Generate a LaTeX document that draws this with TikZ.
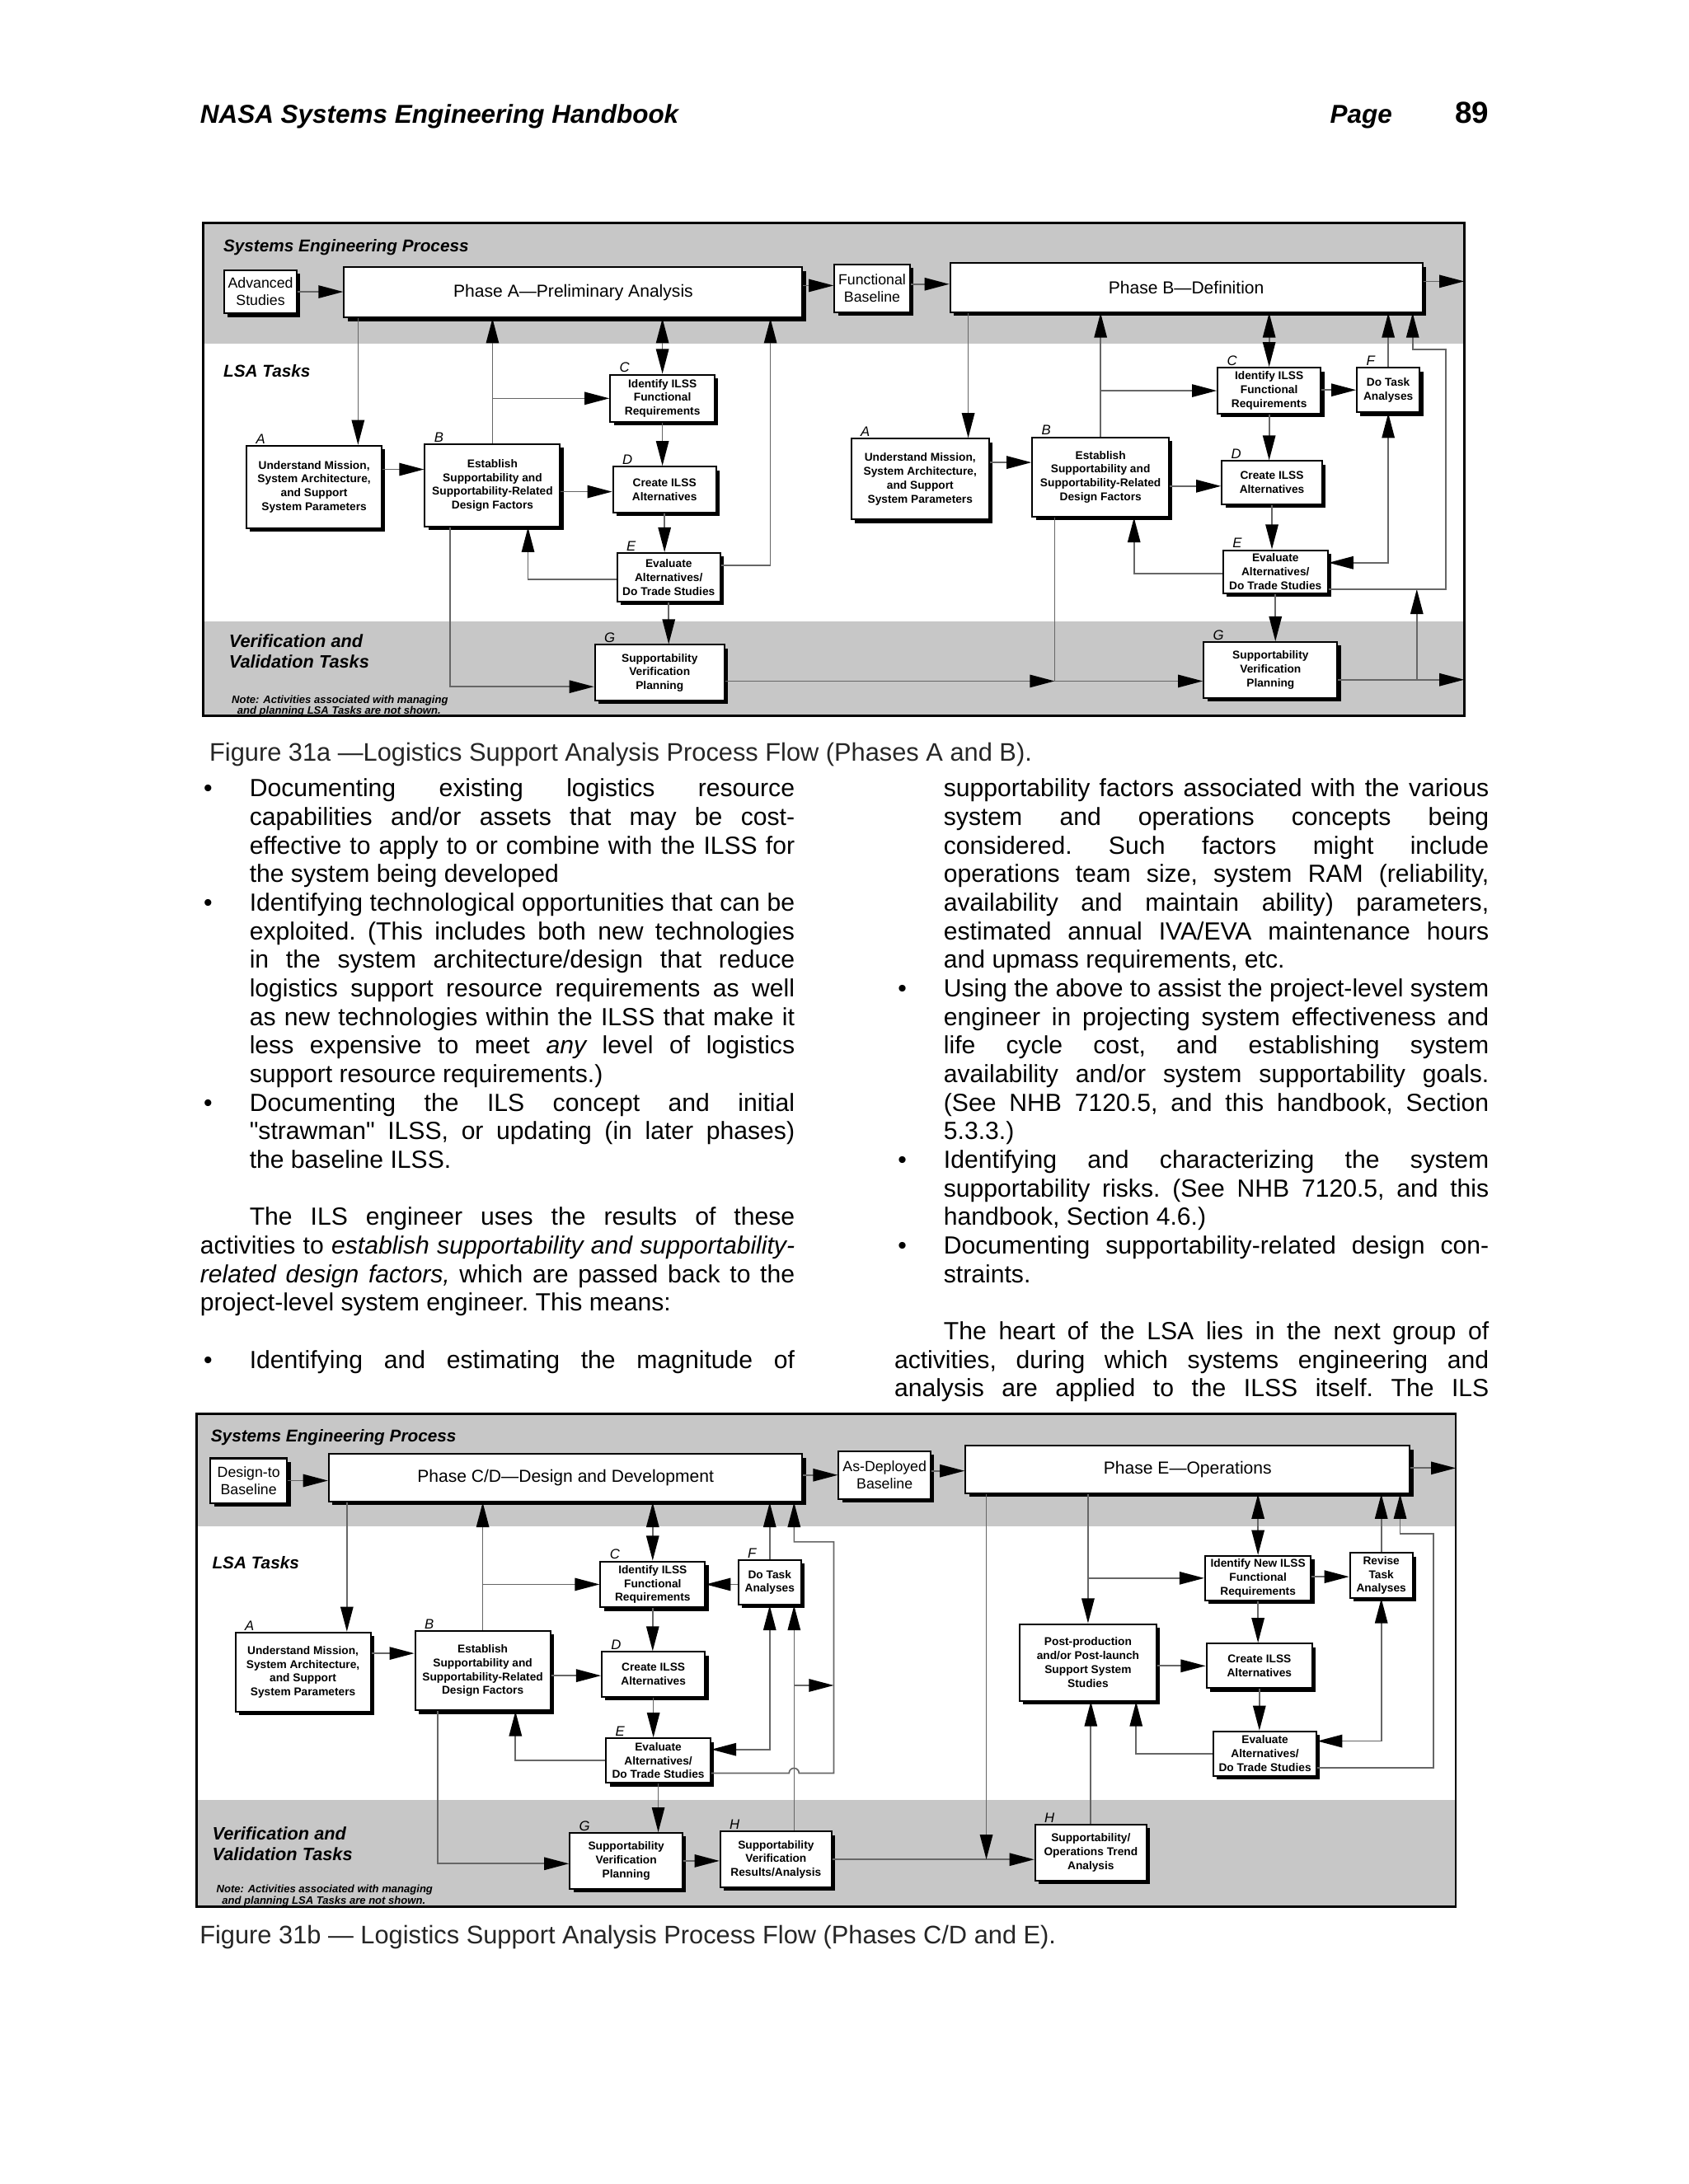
\documentclass[tikz,border=0pt]{standalone}
\usepackage{fontspec}
\setmainfont{Liberation Sans}
\usetikzlibrary{arrows.meta,shadows}
\newcommand\sunit{0.50495pt}
% lines of the two text columns
\newcommand\bfirst[1]{\hbox to\hsize{\hbox to17.9pt{\hskip1.3pt\textbullet\hss}\hbox to197.6pt{#1}}}
\newcommand\bmid[1]{\hbox to\hsize{\hskip17.9pt\hbox to197.6pt{#1}}}
\newcommand\blast[1]{\hbox to\hsize{\hskip17.9pt #1\hfil}}
\newcommand\pfirst[1]{\hbox to\hsize{\hskip17.9pt #1}}
\newcommand\pmid[1]{\hbox to\hsize{#1}}
\newcommand\plast[1]{\hbox to\hsize{#1\hfil}}
\newcommand\emptyrow{\hbox{}}

\begin{document}
\begin{tikzpicture}[x=\sunit,y=-\sunit,
  Head/.tip={Triangle[length=9pt,width=4.6pt,color=black]},
  conn/.style={draw=black!60,line width=.5pt,-Head},
  both/.style={conn,Head-Head},
  band/.style={fill=black!22},
  frm/.style={draw,line width=.8pt},
  tbox/.style={draw,fill=white,line width=.6pt,inner sep=0pt,align=center,
    font=\bfseries\fontsize{4.1}{5}\selectfont,
    drop shadow={shadow xshift=1.3pt,shadow yshift=-1.3pt,fill=black,opacity=1}},
  sbox/.style={tbox,font=\fontsize{5.3}{6.3}\selectfont},
  pbox/.style={tbox,font=\fontsize{6.3}{7}\selectfont},
  sz/.style 2 args={minimum width=#1*\sunit,minimum height=#2*\sunit},
  tag/.style={anchor=south west,xshift=3.2pt,inner sep=.3pt,font=\itshape\fontsize{5}{5}\selectfont},
  lane/.style={anchor=base west,inner sep=0pt,font=\bfseries\itshape\fontsize{6.2}{7}\selectfont},
  vlane/.style={anchor=north west,inner sep=0pt,align=left,font=\bfseries\itshape\fontsize{6.5}{7.6}\selectfont},
  fignote/.style={anchor=north west,inner sep=0pt,align=left,font=\bfseries\itshape\fontsize{3.9}{4}\selectfont},
  figcap/.style={anchor=base west,inner sep=0pt,text=black!85,font=\fontsize{9.2}{11}\selectfont}]
\useasboundingbox (0,0) rectangle (1212,1568);
\fill[white] (0,0) rectangle (1212,1568);

% page header
\node[anchor=base west,inner sep=0pt,font=\bfseries\itshape\fontsize{9.4}{11}\selectfont] (hdr) at (143.3,88.5) {NASA Systems Engineering Handbook};
\node[anchor=base west,inner sep=0pt,font=\bfseries\itshape\fontsize{9.4}{11}\selectfont] (pg) at (954.4,88.5) {Page};
\node[anchor=base east,inner sep=0pt,font=\bfseries\fontsize{11}{13}\selectfont] (pgnum) at (1069,88.5) {89};

% ---------- Figure 31a ----------
\fill[band] (146,160) rectangle (1051,247);
\fill[band] (146,446) rectangle (1051,514);
\draw[frm] (146,160) rectangle (1051,514);
\node[lane] (sepA) at (160,181) {Systems Engineering Process};
\node[lane] (lsaA) at (160,271) {LSA Tasks};
\node[vlane] (vvA) at (164,455) {Verification and\\Validation Tasks};
\node[fignote] (ntA) at (166,499) {Note: Activities associated with managing\\\hspace*{2pt}and planning LSA Tasks are not shown.};

\node[sbox,sz={52}{31}] (adv) at (187,209.5) {Advanced\\Studies};
\node[pbox,sz={329}{36}] (phaseA) at (411.5,210) {Phase A---Preliminary Analysis};
\node[sbox,sz={54}{34}] (fb) at (626,207) {Functional\\Baseline};
\node[pbox,sz={339}{35}] (phaseB) at (851.5,206.5) {Phase B---Definition};

\node[tbox,sz={97}{59},label={[tag]north west:A}] (a1) at (225.5,349.5) {Understand Mission,\\System Architecture,\\and Support\\System Parameters};
\node[tbox,sz={97}{59},label={[tag]north west:B}] (b1) at (353.5,348.5) {Establish\\Supportability and\\Supportability-Related\\Design Factors};
\node[tbox,sz={75}{34},label={[tag]north west:C}] (c1) at (475.5,286) {Identify ILSS\\Functional\\Requirements};
\node[tbox,sz={74}{33},label={[tag]north west:D}] (d1) at (477,351.5) {Create ILSS\\Alternatives};
\node[tbox,sz={74}{35},label={[tag]north west:E}] (e1) at (480,414.5) {Evaluate\\Alternatives/\\Do Trade Studies};
\node[tbox,sz={93}{40},label={[tag]north west:G}] (g1) at (473.5,483) {Supportability\\Verification\\Planning};

\node[tbox,sz={99}{58},label={[tag]north west:A}] (a2) at (660.5,344) {Understand Mission,\\System Architecture,\\and Support\\System Parameters};
\node[tbox,sz={98}{57},label={[tag]north west:B}] (b2) at (790,342.5) {Establish\\Supportability and\\Supportability-Related\\Design Factors};
\node[tbox,sz={74}{33},label={[tag]north west:C}] (c2) at (911,280.5) {Identify ILSS\\Functional\\Requirements};
\node[tbox,sz={45}{32},label={[tag]north west:F}] (f2) at (996.5,280) {Do Task\\Analyses};
\node[tbox,sz={72}{31},label={[tag]north west:D}] (d2) at (913,346.5) {Create ILSS\\Alternatives};
\node[tbox,sz={75}{31},label={[tag]north west:E}] (e2) at (915.5,410.5) {Evaluate\\Alternatives/\\Do Trade Studies};
\node[tbox,sz={96}{40},label={[tag]north west:G}] (g2) at (912,481) {Supportability\\Verification\\Planning};

\coordinate (rimA) at (1051,202);
\coordinate (rimB) at (1051,488);
\coordinate (jA) at (757,489);
\coordinate (jB) at (1017,488);

\draw[conn] (adv.east) -- (adv.east -| phaseA.west);
\draw[conn] (phaseA.east |- 0,205) -- (fb.west |- 0,205);
\draw[conn] (fb.east |- 0,204) -- (phaseB.west |- 0,204);
\draw[conn] (phaseB.east |- rimA) -- (rimA);
\draw[conn] (phaseA.south -| 257,0) -- (a1.north -| 257,0);
\draw[conn] (a1.east |- 0,337) -- (b1.west |- 0,337);
\draw[conn] (b1.north) -- (b1.north |- phaseA.south);
\draw[conn] (b1.north |- c1.west) -- (c1.west);
\draw[conn] (b1.east |- 0,353) -- (d1.west |- 0,353);
\draw[both] (c1.north) -- (c1.north |- phaseA.south);
\draw[conn] (c1.south) -- (c1.south |- d1.north);
\draw[conn] (d1.south) -- (d1.south |- e1.north);
\draw[conn] (e1.south) -- (e1.south |- g1.north);
\draw[conn] (e1.west |- 0,416) -| (b1.south -| 379,0);
\draw[conn] (e1.east |- 0,406) -| (phaseA.south -| 553,0);
\draw[conn] (b1.south -| 323,0) |- (g1.west |- 0,493);
\draw[conn] (g1.east |- jA) -- (jA);
\draw[conn] (b2.south -| jA) -- (jA) -- (g2.west |- jA);
\draw[conn] (g2.east |- rimB) -- (rimB);
\draw[conn] (jB) -- (jB |- 0,423);
\draw[conn] (phaseB.south -| 695,0) -- (a2.north -| 695,0);
\draw[conn] (a2.east |- 0,332) -- (b2.west |- 0,332);
\draw[conn] (b2.north) -- (b2.north |- phaseB.south);
\draw[conn] (b2.north |- c2.west) -- (c2.west);
\draw[conn] (b2.east |- 0,349) -- (d2.west |- 0,349);
\draw[both] (c2.north) -- (c2.north |- phaseB.south);
\draw[conn] (c2.east |- f2.west) -- (f2.west);
\draw[conn] (c2.south) -- (c2.south |- d2.north);
\draw[conn] (d2.south) -- (d2.south |- e2.north);
\draw[conn] (e2.south) -- (e2.south |- g2.north);
\draw[conn] (f2.north) -- (f2.north |- phaseB.south);
\draw[both] (e2.east |- 0,404) -| (f2.south);
\draw[conn] (e2.west |- 0,412) -| (b2.south -| 814,0);
\draw[conn] (e2.east |- 0,423) -| (1038,251) -| (phaseB.south -| 1014,0);

\node[figcap] (capA) at (150,546.5) {Figure 31a ---Logistics Support Analysis Process Flow (Phases A and B).};

% ---------- text columns ----------
\node[anchor=base west,inner sep=0pt] (colL) at (143.3,572) {\vtop{\hsize=215.5pt\fontsize{9}{10.36}\selectfont\frenchspacing\lineskiplimit=-\maxdimen
\bfirst{Documenting existing logistics resource}
\bmid{capabilities and/or assets that may be cost-}
\bmid{effective to apply to or combine with the ILSS for}
\blast{the system being developed}
\bfirst{Identifying technological opportunities that can be}
\bmid{exploited. (This includes both new technologies}
\bmid{in the system architecture/design that reduce}
\bmid{logistics support resource requirements as well}
\bmid{as new technologies within the ILSS that make it}
\bmid{less expensive to meet {\itshape any} level of logistics}
\blast{support resource requirements.)}
\bfirst{Documenting the ILS concept and initial}
\bmid{\textquotedbl strawman\textquotedbl\ ILSS, or updating (in later phases)}
\blast{the baseline ILSS.}
\emptyrow
\pfirst{The ILS engineer uses the results of these}
\pmid{activities to {\itshape establish supportability and supportability-}}
\pmid{{\itshape related design factors,} which are passed back to the}
\plast{project-level system engineer. This means:}
\emptyrow
\bfirst{Identifying and estimating the magnitude of}}};

\node[anchor=base west,inner sep=0pt] (colR) at (641.6,572) {\vtop{\hsize=215.5pt\fontsize{9}{10.36}\selectfont\frenchspacing\lineskiplimit=-\maxdimen
\bmid{supportability factors associated with the various}
\bmid{system and operations concepts being}
\bmid{considered. Such factors might include}
\bmid{operations team size, system RAM (reliability,}
\bmid{availability and maintain ability) parameters,}
\bmid{estimated annual IVA/EVA maintenance hours}
\blast{and upmass requirements, etc.}
\bfirst{Using the above to assist the project-level system}
\bmid{engineer in projecting system effectiveness and}
\bmid{life cycle cost, and establishing system}
\bmid{availability and/or system supportability goals.}
\bmid{(See NHB 7120.5, and this handbook, Section}
\blast{5.3.3.)}
\bfirst{Identifying and characterizing the system}
\bmid{supportability risks. (See NHB 7120.5, and this}
\blast{handbook, Section 4.6.)}
\bfirst{Documenting supportability-related design con-}
\blast{straints.}
\emptyrow
\pfirst{The heart of the LSA lies in the next group of}
\pmid{activities, during which systems engineering and}
\pmid{analysis are applied to the ILSS itself. The ILS}}};

% ---------- Figure 31b ----------
\fill[band] (141,1015) rectangle (1045,1096);
\fill[band] (141,1292) rectangle (1045,1369);
\draw[frm] (141,1015) rectangle (1045,1369);
\node[lane] (sepB) at (151,1035) {Systems Engineering Process};
\node[lane] (lsaB) at (152,1126) {LSA Tasks};
\node[vlane] (vvB) at (152,1311) {Verification and\\Validation Tasks};
\node[fignote] (ntB) at (155,1353) {Note: Activities associated with managing\\\hspace*{2pt}and planning LSA Tasks are not shown.};

\node[sbox,sz={55}{32}] (dtb) at (178.5,1063) {Design-to\\Baseline};
\node[pbox,sz={340}{34}] (phaseCD) at (406,1061) {Phase C/D---Design and Development};
\node[sbox,sz={66}{34}] (adb) at (635,1059) {As-Deployed\\Baseline};
\node[pbox,sz={319}{34}] (phaseE) at (852.5,1055) {Phase E---Operations};

\node[tbox,sz={97}{57},label={[tag]north west:A}] (a3) at (217.5,1200.5) {Understand Mission,\\System Architecture,\\and Support\\System Parameters};
\node[tbox,sz={97}{57},label={[tag]north west:B}] (b3) at (346.5,1199.5) {Establish\\Supportability and\\Supportability-Related\\Design Factors};
\node[tbox,sz={75}{33},label={[tag]north west:C}] (c3) at (468.5,1137.5) {Identify ILSS\\Functional\\Requirements};
\node[tbox,sz={45}{32},label={[tag]north west:F}] (f3) at (552.5,1136) {Do Task\\Analyses};
\node[tbox,sz={74}{32},label={[tag]north west:D}] (d3) at (469,1202) {Create ILSS\\Alternatives};
\node[tbox,sz={75}{32},label={[tag]north west:E}] (e3) at (472.5,1264) {Evaluate\\Alternatives/\\Do Trade Studies};
\node[tbox,sz={81}{40},label={[tag]north west:G}] (g3) at (449.5,1336) {Supportability\\Verification\\Planning};
\node[tbox,sz={80}{40},label={[tag]north west:H}] (h3) at (557,1335) {Supportability\\Verification\\Results/Analysis};

\node[tbox,sz={76}{32}] (c4) at (903,1133) {Identify New ILSS\\Functional\\Requirements};
\node[tbox,sz={45}{32}] (f4) at (991.5,1131) {Revise\\Task\\Analyses};
\node[tbox,sz={98}{55}] (p4) at (781,1193.5) {Post-production\\and/or Post-launch\\Support System\\Studies};
\node[tbox,sz={76}{32}] (d4) at (904,1196) {Create ILSS\\Alternatives};
\node[tbox,sz={74}{32}] (e4) at (908,1259) {Evaluate\\Alternatives/\\Do Trade Studies};
\node[tbox,sz={80}{40},label={[tag]north west:H}] (h4) at (783,1330) {Supportability/\\Operations Trend\\Analysis};

\coordinate (rimC) at (1045,1054);
\coordinate (jC) at (570,1210);
\coordinate (jD) at (598.5,1210);
\coordinate (jE) at (708,1335);

\draw[conn] (dtb.east) -- (dtb.east -| phaseCD.west);
\draw[conn] (phaseCD.east |- 0,1059) -- (adb.west |- 0,1059);
\draw[conn] (adb.east |- 0,1056) -- (phaseE.west |- 0,1056);
\draw[conn] (phaseE.east |- rimC) -- (rimC);
\draw[conn] (phaseCD.south -| 249,0) -- (a3.north -| 249,0);
\draw[conn] (a3.east |- 0,1187) -- (b3.west |- 0,1187);
\draw[conn] (b3.north) -- (b3.north |- phaseCD.south);
\draw[conn] (b3.north |- c3.west) -- (c3.west);
\draw[conn] (b3.east |- 0,1203) -- (d3.west |- 0,1203);
\draw[both] (c3.north) -- (c3.north |- phaseCD.south);
\draw[conn] (f3.west |- c3.east) -- (c3.east);
\draw[conn] (f3.north) -- (f3.north |- phaseCD.south);
\draw[conn] (c3.south) -- (c3.south |- d3.north);
\draw[conn] (d3.south) -- (d3.south |- e3.north);
\draw[conn] (e3.south) -- (e3.south |- g3.north);
\draw[both] (e3.east |- 0,1256) -| (f3.south);
\draw[conn] (h3.north -| jC) -- (f3.south -| jC);
\draw[conn] (e3.east |- 0,1273) -- (566.4,1273) arc[start angle=180,end angle=0,radius=1.8pt]
  -- (598.5,1273) -- (598.5,1107) -- (570,1107) -- (phaseCD.south -| 570,0);
\draw[conn] (jC) -- (jD);
\draw[conn] (b3.south -| 314,0) |- (g3.west |- 0,1338);
\draw[conn] (e3.west |- 0,1264) -| (b3.south -| 370,0);
\draw[conn] (g3.east |- 0,1336) -- (h3.west |- 0,1336);
\draw[conn] (h3.east |- jE) -- (h4.west |- jE);
\draw[conn] (phaseE.south -| jE) -- (jE);
\draw[conn] (p4.north |- phaseE.south) -- (p4.north);
\draw[conn] (p4.north |- c4.west) -- (c4.west);
\draw[both] (c4.north) -- (c4.north |- phaseE.south);
\draw[conn] (c4.east |- 0,1132) -- (f4.west |- 0,1132);
\draw[conn] (c4.south) -- (c4.south |- d4.north);
\draw[conn] (d4.south) -- (d4.south |- e4.north);
\draw[conn] (p4.east |- d4.west) -- (d4.west);
\draw[conn] (h4.north) -- (h4.north |- p4.south);
\draw[conn] (e4.west |- 0,1259) -| (p4.south -| 815.5,0);
\draw[both] (e4.east |- 0,1250) -| (f4.south);
\draw[conn] (f4.north) -- (f4.north |- phaseE.south);
\draw[conn] (e4.east |- 0,1269) -| (1029,1101) -| (phaseE.south -| 1005,0);

\node[figcap] (capB) at (143,1395.5) {Figure 31b --- Logistics Support Analysis Process Flow (Phases C/D and E).};
\end{tikzpicture}
\end{document}
